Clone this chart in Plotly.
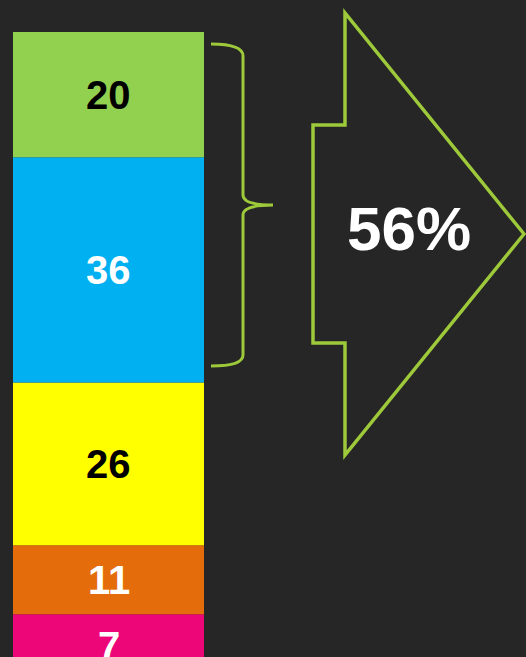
import plotly.graph_objects as go

# Data (top to bottom as shown)
categories = ["A", "B", "C", "D", "E"]
values = [20, 36, 26, 11, 7]
colors = ["#92D050", "#00B0F0", "#FFFF00", "#E46C0A", "#EC0677"]
label_colors = ["#000000", "#FFFFFF", "#000000", "#FFFFFF", "#FFFFFF"]
highlight_count = 2  # first two segments bracketed

W, H = 526, 657
BG = "#262626"
LINE = "#9DC93A"

total = sum(values)
fig = go.Figure()

# stack from bottom: reverse order
bottom = 0
mids = {}
for cat, v, c in reversed(list(zip(categories, values, colors))):
    fig.add_trace(go.Bar(x=[0], y=[v], base=[bottom], name=cat, marker=dict(color=c, line=dict(width=0)),
                         width=1, hoverinfo="skip", showlegend=False))
    mids[cat] = bottom + v / 2
    bottom += v

for i, (cat, v, tc) in enumerate(zip(categories, values, label_colors)):
    fig.add_annotation(x=0, y=mids[cat], xref="x", yref="y", text=f"<b>{v}</b>", showarrow=False,
                       xanchor="center", yanchor="middle",
                       font=dict(family="Liberation Sans, Arial", size=40, color=tc),
                       yshift=-10 if i == len(values) - 1 else 0)

def P(px, py):
    return px / W, 1 - py / H

def pp(x, y):
    a, b = P(x, y)
    return f"{a:.5f},{b:.5f}"

brace = (f"M {pp(211,44)} Q {pp(243,44)} {pp(243,56)} L {pp(243,195)} "
         f"Q {pp(243,205)} {pp(273,205)} Q {pp(243,205)} {pp(243,215)} "
         f"L {pp(243,355)} Q {pp(243,366)} {pp(211,366)}")
fig.add_shape(type="path", path=brace, xref="paper", yref="paper",
              line=dict(color=LINE, width=3))

arrow_pts = [(345, 13), (345, 125), (313, 125), (313, 343), (345, 343), (345, 455), (524, 234)]
arrow = "M " + " L ".join(pp(x, y) for x, y in arrow_pts) + " Z"
fig.add_shape(type="path", path=arrow, xref="paper", yref="paper",
              line=dict(color=LINE, width=3.5), fillcolor="rgba(0,0,0,0)")

pct = sum(values[:highlight_count]) / total * 100
tx, ty = P(409, 228)
fig.add_annotation(x=tx, y=ty, xref="paper", yref="paper", text=f"<b>{pct:.0f}%</b>", showarrow=False,
                   xanchor="center", yanchor="middle",
                   font=dict(family="Liberation Sans, Arial", size=62, color="#FFFFFF"))

ppu = 6.26
fig.update_layout(
    width=W, height=H, margin=dict(l=0, r=0, t=0, b=0),
    paper_bgcolor=BG, plot_bgcolor=BG, barmode="overlay",
    xaxis=dict(range=[-108.5 / 191, (W - 108.5) / 191], visible=False, fixedrange=True),
    yaxis=dict(range=[1 / ppu, total + 32 / ppu], visible=False, fixedrange=True),
)

fig.write_html("out.html", config={"displayModeBar": False},
               post_script="document.body.style.margin='0';document.body.style.overflow='hidden';document.body.style.background='#262626';")
